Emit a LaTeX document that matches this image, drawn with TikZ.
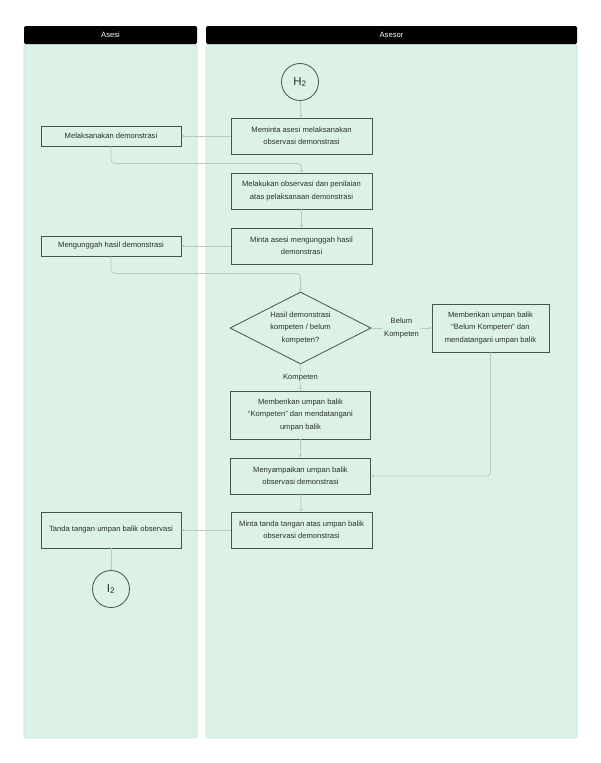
\documentclass[tikz,border=0pt]{standalone}
\usepackage{fontspec}
\setmainfont{Liberation Sans}
\usetikzlibrary{shapes.geometric,arrows.meta}

\definecolor{lanefill}{HTML}{DDF2E6}
\definecolor{laneline}{HTML}{C3E2D1}
\definecolor{boxline}{HTML}{46544C}
\definecolor{flowline}{HTML}{B7CBC0}
\definecolor{textcol}{HTML}{27302B}

\begin{document}
\begin{tikzpicture}[x=1pt, y=-1pt,
    every node/.style={font=\fontsize{7.6}{12.5}\selectfont, text=textcol},
    lane/.style={fill=lanefill, draw=laneline, line width=0.6pt, rounded corners=1.5pt},
    lanehead/.style={fill=black, text=white, inner sep=0pt, minimum height=18pt, rounded corners=1.5pt},
    task/.style={draw=boxline, line width=0.8pt, align=center, inner sep=2pt},
    decision/.style={draw=boxline, line width=0.8pt, diamond, aspect=2, align=center, inner sep=0pt,
        minimum width=141pt, minimum height=72pt},
    connector/.style={draw=boxline, line width=0.8pt, circle, minimum size=37pt, inner sep=0pt,
        font=\fontsize{11.5}{12}\selectfont},
    flow/.style={draw=flowline, line width=0.8pt, rounded corners=4pt,
        -{Stealth[length=3pt, width=3pt]}},
    flowlabel/.style={fill=lanefill, align=center, inner sep=1.5pt}
    ]
    \useasboundingbox (0,0) rectangle (600,763);

    % lanes
    \draw[lane] (24,44) rectangle (197,738);
    \draw[lane] (206,44) rectangle (577,738);
    \node[lanehead, minimum width=173pt] (asesi) at (110.5,35) {Asesi};
    \node[lanehead, minimum width=371pt] (asesor) at (391.5,35) {Asesor};

    % nodes
    \node[connector] (H2) at (300,82) {H\textsubscript{2}};
    \node[task, minimum width=141pt, minimum height=36pt] (meminta) at (301.5,136)
        {Meminta asesi melaksanakan\\observasi demonstrasi};
    \node[task, minimum width=140pt, minimum height=20pt] (melaksanakan) at (111,136)
        {Melaksanakan demonstrasi};
    \node[task, minimum width=141pt, minimum height=36pt] (melakukan) at (301.5,191)
        {Melakukan observasi dan penilaian\\atas pelaksanaan demonstrasi};
    \node[task, minimum width=141pt, minimum height=36pt] (mintaunggah) at (301.5,246)
        {Minta asesi mengunggah hasil\\demonstrasi};
    \node[task, minimum width=140pt, minimum height=20pt] (mengunggah) at (111,246)
        {Mengunggah hasil demonstrasi};
    \node[decision] (hasil) at (300.5,328)
        {Hasil demonstrasi\\kompeten / belum\\kompeten?};
    \node[task, minimum width=117pt, minimum height=48pt] (belumkompeten) at (490.5,328)
        {Memberikan umpan balik\\``Belum Kompeten'' dan\\mendatangani umpan balik};
    \node[task, minimum width=140pt, minimum height=48pt] (kompeten) at (300.5,415)
        {Memberikan umpan balik\\``Kompeten'' dan mendatangani\\umpan balik};
    \node[task, minimum width=140pt, minimum height=36pt] (menyampaikan) at (300.5,476)
        {Menyampaikan umpan balik\\observasi demonstrasi};
    \node[task, minimum width=141pt, minimum height=36pt] (mintatanda) at (301.5,530)
        {Minta tanda tangan atas umpan balik\\observasi demonstrasi};
    \node[task, minimum width=140pt, minimum height=36pt] (tandatangan) at (111,530)
        {Tanda tangan umpan balik observasi};
    \node[connector] (I2) at (111,589) {I\textsubscript{2}};

    % arrows
    \draw[flow] (H2) -- (meminta);
    \draw[flow] (meminta) -- (melaksanakan);
    \draw[flow] (melaksanakan.south) -- ++(0,17) -| (melakukan.north);
    \draw[flow] (melakukan) -- (mintaunggah);
    \draw[flow] (mintaunggah) -- (mengunggah);
    \draw[flow] (mengunggah.south) -- ++(0,17) -| (hasil.north);
    \draw[flow] (hasil.east) -- node[flowlabel] (lblbelum) {Belum\\Kompeten} (belumkompeten.west);
    \draw[flow] (hasil.south) -- node[flowlabel] (lblkompeten) {Kompeten} (kompeten.north);
    \draw[flow] (kompeten) -- (menyampaikan);
    \draw[flow] (belumkompeten.south) |- (menyampaikan.east);
    \draw[flow] (menyampaikan) -- (mintatanda);
    \draw[flow] (mintatanda) -- (tandatangan);
    \draw[flow] (tandatangan) -- (I2);
\end{tikzpicture}
\end{document}
